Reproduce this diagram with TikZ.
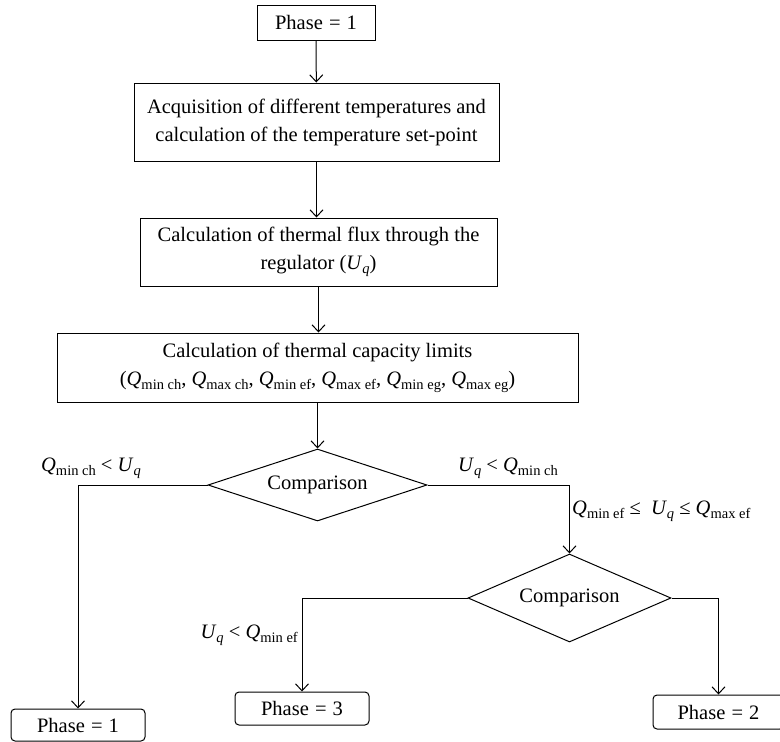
\documentclass[tikz,border=0pt]{standalone}
\usepackage{fontspec}
\setmainfont{Liberation Serif}
\usetikzlibrary{shapes.geometric,arrows.meta}
\newcommand\sbs[1]{\raisebox{-0.4ex}{\fontsize{14.5}{14.5}\selectfont #1}}
\newcommand\Qv[1]{\textit{Q}\sbs{#1}}
\newcommand\Uq{\textit{U}\sbs{\textit{q}}}
\newcommand\eqs{\hspace{0.3em}=\hspace{0.3em}}
\begin{document}
\begin{tikzpicture}[x=1pt,y=-1pt,
  font=\fontsize{20.5}{28}\selectfont,
  box/.style={draw,line width=1pt,align=center,inner sep=0pt},
  rbox/.style={box,rounded corners=4pt},
  dia/.style={draw,line width=1pt,diamond,inner sep=0pt,aspect=3},
  arr/.style={draw,line width=1pt,-{Straight Barb[length=7pt,width=13pt,line width=1pt]}},
  lab/.style={inner sep=0pt}]
\useasboundingbox (0,0) rectangle (780,742);
\node[box,minimum width=118pt,minimum height=35pt] (p1) at (316,22.5) {Phase\eqs 1};
\node[box,minimum width=365pt,minimum height=78pt] (acq) at (316.5,122) {Acquisition of different temperatures and\\calculation of the temperature set-point};
\node[box,minimum width=357pt,minimum height=68pt] (flux) at (318.5,252) {Calculation of thermal flux through the\\regulator (\Uq)};
\node[box,minimum width=521pt,minimum height=69pt] (cap) at (317.5,367.5) {Calculation of thermal capacity limits\\(\Qv{min ch}, \Qv{max ch}, \Qv{min ef}, \Qv{max ef}, \Qv{min eg}, \Qv{max eg})};
\node[dia,minimum width=219pt,minimum height=72pt] (d1) at (317.5,485) {Comparison};
\node[dia,minimum width=203pt,minimum height=88pt] (d2) at (569.5,598) {Comparison};
\node[rbox,minimum width=134pt,minimum height=32pt] (ph1) at (78,725) {Phase\eqs 1};
\node[rbox,minimum width=134pt,minimum height=33pt] (ph3) at (302,708.5) {Phase\eqs 3};
\node[rbox,minimum width=131pt,minimum height=34pt] (ph2) at (718.5,712) {Phase\eqs 2};
\draw[arr] (p1) -- (acq);
\draw[arr] (acq) -- (acq.south |- flux.north);
\draw[arr] (flux) -- (cap.north -| flux.south);
\draw[arr] (cap.south -| d1.north) -- (d1);
\draw[arr] (d1.west) -| (ph1.north);
\draw[arr] (d1.east) -| (d2.north);
\draw[arr] (d2.west) -| (ph3.north);
\draw[arr] (d2.east) -| (ph2.north);
\node[lab] (l1) at (91,468) {\Qv{min ch} < \Uq};
\node[lab] (l2) at (508,468) {\Uq{} < \Qv{min ch}};
\node[lab,anchor=west] (l3) at (572,511) {\Qv{min ef} ≤ \ \Uq{} ≤ \Qv{max ef}};
\node[lab,anchor=east] (l4) at (298,635) {\Uq{} < \Qv{min ef}};
\end{tikzpicture}
\end{document}
